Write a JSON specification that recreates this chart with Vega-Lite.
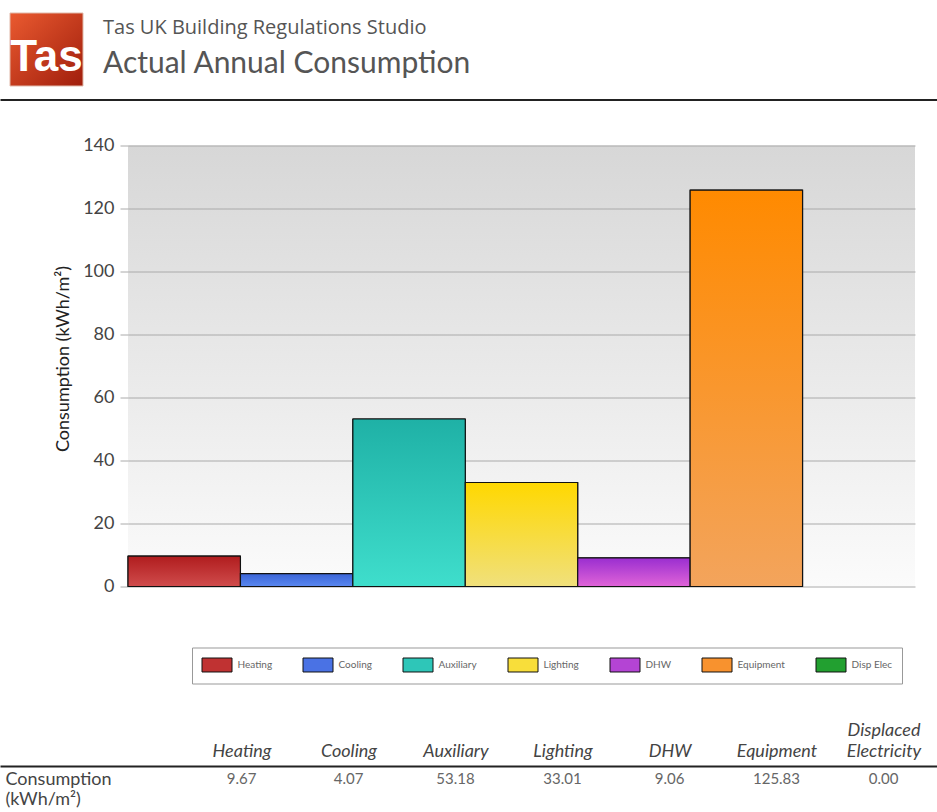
{
  "$schema": "https://vega.github.io/schema/vega-lite/v6.json",
  "background": "white",
  "padding": {"left": 0, "top": 12, "right": 0, "bottom": 0},
  "spacing": 36.5,
  "resolve": {"legend": {"color": "independent"}},
  "config": {"view": {"stroke": null}},
  "datasets": {
    "cons": [
      {"category": "Heating", "column": "Heating", "value": 9.67},
      {"category": "Cooling", "column": "Cooling", "value": 4.07},
      {"category": "Auxiliary", "column": "Auxiliary", "value": 53.18},
      {"category": "Lighting", "column": "Lighting", "value": 33.01},
      {"category": "DHW", "column": "DHW", "value": 9.06},
      {"category": "Equipment", "column": "Equipment", "value": 125.83},
      {"category": "Disp Elec", "column": "Displaced Electricity", "value": 0}
    ],
    "logo": [{"name": "Tas"}]
  },
  "vconcat": [
    {
      "width": 937,
      "height": 86.5,
      "resolve": {"scale": {"x": "independent"}},
      "layer": [
        {
          "data": {"name": "logo"},
          "encoding": {
            "x": {"field": "name", "type": "nominal", "scale": {"type": "band", "range": [10, 83], "paddingInner": 0, "paddingOuter": 0}, "axis": null},
            "y": {"field": "name", "type": "nominal", "scale": {"type": "band", "paddingInner": 0, "paddingOuter": 0.0925, "align": 0}, "axis": null}
          },
          "layer": [
            {"mark": {"type": "rect", "stroke": "#e0b8a8", "strokeWidth": 1,
                      "fill": {"gradient": "linear", "x1": 0, "y1": 0, "x2": 1, "y2": 1,
                               "stops": [{"offset": 0, "color": "#ea5a30"}, {"offset": 1, "color": "#a01e0c"}]}}},
            {"mark": {"type": "text", "font": "Liberation Sans Narrow, Liberation Sans", "fontWeight": "bold", "fontSize": 44, "fill": "white", "align": "center", "baseline": "alphabetic"},
             "encoding": {"y": {"field": "name", "type": "nominal", "bandPosition": 0.8}, "text": {"field": "name"}}},
            {"mark": {"type": "text", "font": "Open Sans", "fontSize": 20, "fill": "#555", "align": "left", "baseline": "alphabetic", "dx": 20},
             "encoding": {"x": {"field": "name", "type": "nominal", "bandPosition": 1}, "y": {"field": "name", "type": "nominal", "bandPosition": 0.288}, "text": {"value": "Tas UK Building Regulations Studio"}}},
            {"mark": {"type": "text", "font": "Lato", "fontSize": 30, "fill": "#555", "align": "left", "baseline": "alphabetic", "dx": 20},
             "encoding": {"x": {"field": "name", "type": "nominal", "bandPosition": 1}, "y": {"field": "name", "type": "nominal", "bandPosition": 0.822}, "text": {"value": "Actual Annual Consumption"}}}
          ]
        },
        {
          "data": {"values": []},
          "mark": "point",
          "encoding": {
            "x": {"field": "z", "type": "quantitative", "scale": {"domain": [0, 1]},
                  "axis": {"orient": "bottom", "title": null, "labels": false, "ticks": false, "grid": false, "domain": true, "domainColor": "#222", "domainWidth": 2}}
          }
        }
      ]
    },
    {
      "spacing": 0,
      "resolve": {"legend": {"color": "independent"}},
      "hconcat": [
        {"width": 54, "height": 1, "data": {"values": []}, "mark": "point"},
        {
          "width": 787,
          "height": 441,
          "view": {"stroke": null, "fill": {"gradient": "linear", "x1": 0, "y1": 0, "x2": 0, "y2": 1,
                   "stops": [{"offset": 0, "color": "#d7d7d7"}, {"offset": 1, "color": "#fbfbfb"}]}},
          "data": {"name": "cons"},
          "transform": [{"filter": "datum.value > 0"}],
          "encoding": {
            "x": {"field": "category", "type": "nominal", "sort": null,
                  "scale": {"domain": ["Heating", "Cooling", "Auxiliary", "Lighting", "DHW", "Equipment", "Disp Elec"], "paddingInner": 0, "paddingOuter": 0},
                  "axis": null},
            "y": {"field": "value", "type": "quantitative",
                  "scale": {"domain": [0, 140], "nice": false},
                  "axis": {"values": [0, 20, 40, 60, 80, 100, 120, 140], "title": "Consumption (kWh/m²)",
                           "titleFont": "Lato", "titleFontSize": 18, "titleFontWeight": "normal", "titleColor": "#222",
                           "titleX": -65, "titleY": 213, "titleAngle": 270, "titleAlign": "center", "titleBaseline": "middle",
                           "labelFont": "Lato", "labelFontSize": 18, "labelColor": "#444", "labelPadding": 6,
                           "tickSize": 8, "tickColor": "#aaa", "domain": false, "grid": true, "gridColor": "#aaa", "gridWidth": 1}}
          },
          "layer": [
            {"mark": {"type": "bar", "stroke": "#111", "strokeWidth": 1},
             "encoding": {"color": {"field": "category", "type": "nominal",
               "scale": {"domain": ["Heating", "Cooling", "Auxiliary", "Lighting", "DHW", "Equipment", "Disp Elec"],
                         "range": ["#c03232", "#4a72e4", "#2ec6b8", "#f8de3a", "#b444d4", "#f8922e", "#22a030"]},
               "legend": {"orient": "none", "legendX": 64, "legendY": 502, "direction": "horizontal", "columns": 7, "title": null,
                          "symbolType": "M-1,-0.933H3V0.933H-1Z", "symbolSize": 225, "symbolStrokeColor": "#111", "symbolStrokeWidth": 1,
                          "labelFont": "Lato", "labelFontSize": 10, "labelColor": "#666", "labelOffset": 20, "columnPadding": 28,
                          "padding": 9.5, "strokeColor": "#999", "fillColor": "white"}}}},
            {"transform": [{"filter": "datum.category === 'Heating'"}],
             "mark": {"type": "bar", "stroke": "#111", "strokeWidth": 1.2, "fill": {"gradient": "linear", "x1": 0, "y1": 0, "x2": 0, "y2": 1, "stops": [{"offset": 0, "color": "#b01c1e"}, {"offset": 1, "color": "#d04c4c"}]}}},
            {"transform": [{"filter": "datum.category === 'Cooling'"}],
             "mark": {"type": "bar", "stroke": "#111", "strokeWidth": 1.2, "fill": {"gradient": "linear", "x1": 0, "y1": 0, "x2": 0, "y2": 1, "stops": [{"offset": 0, "color": "#3a64d6"}, {"offset": 1, "color": "#5a88f0"}]}}},
            {"transform": [{"filter": "datum.category === 'Auxiliary'"}],
             "mark": {"type": "bar", "stroke": "#111", "strokeWidth": 1.2, "fill": {"gradient": "linear", "x1": 0, "y1": 0, "x2": 0, "y2": 1, "stops": [{"offset": 0, "color": "#1fb1a6"}, {"offset": 1, "color": "#3fdecc"}]}}},
            {"transform": [{"filter": "datum.category === 'Lighting'"}],
             "mark": {"type": "bar", "stroke": "#111", "strokeWidth": 1.2, "fill": {"gradient": "linear", "x1": 0, "y1": 0, "x2": 0, "y2": 1, "stops": [{"offset": 0, "color": "#ffd800"}, {"offset": 1, "color": "#f0e07c"}]}}},
            {"transform": [{"filter": "datum.category === 'DHW'"}],
             "mark": {"type": "bar", "stroke": "#111", "strokeWidth": 1.2, "fill": {"gradient": "linear", "x1": 0, "y1": 0, "x2": 0, "y2": 1, "stops": [{"offset": 0, "color": "#9a2ed0"}, {"offset": 1, "color": "#e064d8"}]}}},
            {"transform": [{"filter": "datum.category === 'Equipment'"}],
             "mark": {"type": "bar", "stroke": "#111", "strokeWidth": 1.2, "fill": {"gradient": "linear", "x1": 0, "y1": 0, "x2": 0, "y2": 1, "stops": [{"offset": 0, "color": "#ff8a00"}, {"offset": 1, "color": "#f3a45c"}]}}}
          ]
        }
      ]
    },
    {
      "width": 937,
      "height": 26,
      "resolve": {"scale": {"x": "independent"}},
      "layer": [
        {
          "data": {"name": "cons"},
          "mark": {"type": "text", "font": "Lato", "fontSize": 15, "fill": "#666"},
          "encoding": {
            "x": {"field": "column", "type": "nominal", "sort": null,
                  "scale": {"type": "point", "range": [241.5, 883.5], "padding": 0},
                  "axis": {"orient": "top", "title": null, "ticks": false, "grid": false, "domain": false,
                           "labelFont": "Lato", "labelFontStyle": "italic", "labelFontSize": 18, "labelColor": "#444", "labelPadding": 27, "labelAngle": 0,
                           "labelLineHeight": 21,
                           "labelExpr": "datum.label == 'Displaced Electricity' ? ['Displaced', 'Electricity'] : ['', datum.label]"}},
            "y": {"datum": "Consumption (kWh/m²)", "type": "nominal",
                  "axis": {"title": null, "domain": false, "ticks": false, "tickSize": 0, "grid": false,
                           "labelAlign": "left", "labelPadding": -5, "labelBaseline": "middle", "labelOffset": 0,
                           "labelLineHeight": 20, "labelFont": "Lato", "labelFontSize": 18, "labelColor": "#444",
                           "labelExpr": "['Consumption', '(kWh/m²)']"}},
            "text": {"field": "value", "type": "quantitative", "format": ".2f"}
          }
        },
        {
          "data": {"values": []},
          "mark": "point",
          "encoding": {
            "x": {"field": "z", "type": "quantitative", "scale": {"domain": [0, 1]},
                  "axis": {"orient": "top", "title": null, "labels": false, "ticks": false, "grid": false, "domain": true, "domainColor": "#222", "domainWidth": 2}}
          }
        }
      ]
    }
  ]
}
